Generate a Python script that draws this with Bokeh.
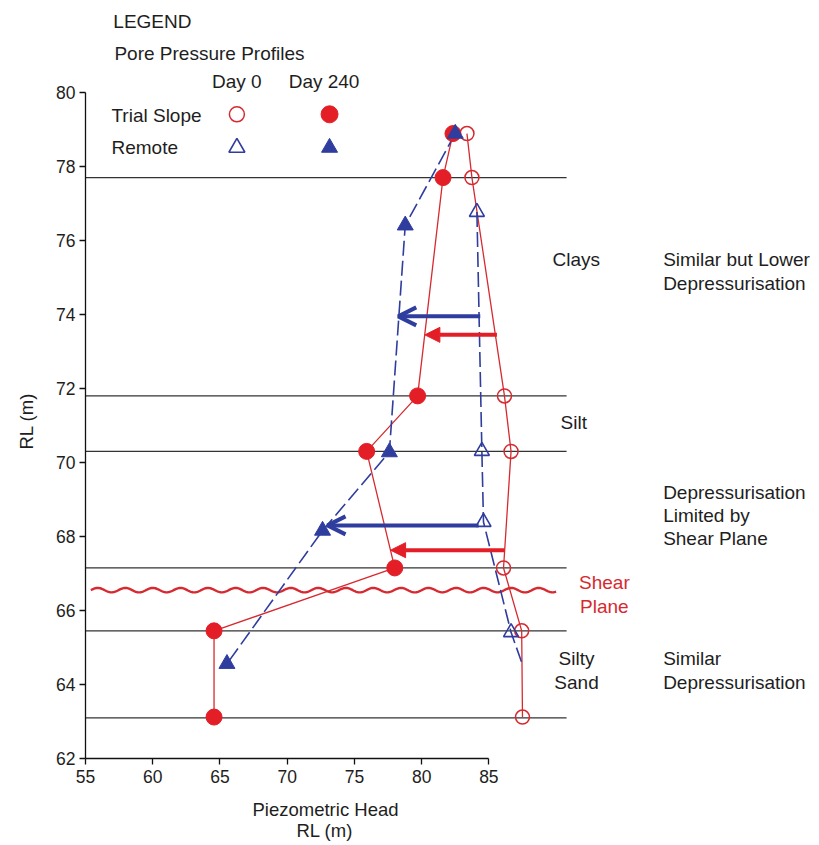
import numpy as np
from bokeh.plotting import figure
from bokeh.models import Arrow, OpenHead, NormalHead, FixedTicker, Title
from bokeh.core.properties import value
from bokeh.embed import file_html
from bokeh.resources import INLINE

# ---------------- data ----------------
layer_boundaries = [77.7, 71.8, 70.3, 67.15, 65.45, 63.1]
shear_plane_rl = 66.55

trial_rl = [78.89, 77.70, 71.80, 70.30, 67.15, 65.45, 63.12]
trial_day0 = [83.37, 83.74, 86.16, 86.65, 86.09, 87.44, 87.50]
trial_day240 = [82.33, 81.59, 79.70, 75.91, 78.00, 64.56, 64.56]

remote_day0_rl = [76.77, 70.31, 68.39, 65.41, 64.60]
remote_day0 = [84.11, 84.48, 84.60, 86.65, 87.44]
remote_day0_marked = [True, True, True, True, False]

remote_day240_rl = [78.89, 76.41, 70.28, 68.16, 64.56]
remote_day240 = [82.50, 78.78, 77.60, 72.63, 65.52]

blue_arrow_rl = [73.95, 68.30]
blue_arrow_from = [84.36, 84.24]
blue_arrow_to = [78.26, 73.00]
red_arrow_rl = [73.45, 67.63]
red_arrow_from = [85.60, 86.16]
red_arrow_to = [80.24, 77.69]

x_ticks = [55, 60, 65, 70, 75, 80, 85]
y_ticks = [62, 64, 66, 68, 70, 72, 74, 76, 78, 80]

RED = "#E41E26"
RED_LINE = "#D62A30"
BLUE = "#2F3D9E"
INK = "#1E1E1E"
FONT = "Liberation Sans"

X_MAX = 109.59      # right edge of the drawing area
LINE_END = 90.78    # where the layer boundary lines stop

# ---------------- figure ----------------
p = figure(width=819, height=845, output_backend="svg", toolbar_location=None,
           x_range=(55, X_MAX), y_range=(62, 82.27),
           min_border_left=82, min_border_right=0,
           min_border_top=8, min_border_bottom=87)
p.outline_line_color = None
p.grid.visible = False

for ax in (p.xaxis[0], p.yaxis[0]):
    ax.axis_line_color = "#111111"
    ax.axis_line_width = 1.3
    ax.major_tick_line_color = "#111111"
    ax.major_tick_line_width = 1.3
    ax.major_tick_out = 6
    ax.major_tick_in = 0
    ax.minor_tick_line_color = None
    ax.major_label_text_font = FONT
    ax.major_label_text_font_size = "17.5px"
    ax.major_label_text_color = INK

p.xaxis.bounds = (55, 85)
p.yaxis.bounds = (62, 80)
p.xaxis.ticker = FixedTicker(ticks=x_ticks)
p.yaxis.ticker = FixedTicker(ticks=y_ticks)
p.xaxis.major_label_standoff = 5
p.yaxis.major_label_standoff = 4

# axis titles
p.add_layout(Title(text="Piezometric Head", align="left", offset=167, vertical_align="bottom",
                   standoff=22, text_font=FONT, text_font_size="18.5px",
                   text_font_style="normal", text_color=INK), "below")
p.add_layout(Title(text="RL (m)", align="left", offset=211, vertical_align="top",
                   standoff=-22, text_font=FONT, text_font_size="18.5px",
                   text_font_style="normal", text_color=INK), "below")
p.add_layout(Title(text="RL (m)", align="left", offset=309, vertical_align="top",
                   standoff=30, text_font=FONT, text_font_size="18.5px",
                   text_font_style="normal", text_color=INK), "left")

# layer boundaries
p.segment(x0=[55] * len(layer_boundaries), x1=[LINE_END] * len(layer_boundaries),
          y0=layer_boundaries, y1=layer_boundaries, line_color="#333333", line_width=1.3)

# shear plane wavy line (decorative symbol)
wx = np.linspace(55.4, 90.0, 600)
wy = shear_plane_rl + 0.06 * np.sin(2 * np.pi * (wx - 55.4) / 2.05)
p.line(wx, wy, line_color=RED_LINE, line_width=2.4)

# profiles
p.line(trial_day0, trial_rl, line_color=RED_LINE, line_width=1.3)
p.line(trial_day240, trial_rl, line_color=RED_LINE, line_width=1.3)
p.line(remote_day0, remote_day0_rl, line_color=BLUE, line_width=1.6, line_dash="15 5")
p.line(remote_day240, remote_day240_rl, line_color=BLUE, line_width=1.6, line_dash="15 5")

# arrows
for rl, x0, x1 in zip(blue_arrow_rl, blue_arrow_from, blue_arrow_to):
    p.add_layout(Arrow(x_start=x0, y_start=rl, x_end=x1, y_end=rl,
                       line_color=BLUE, line_width=4,
                       end=OpenHead(size=18, line_color=BLUE, line_width=4)))
for rl, x0, x1 in zip(red_arrow_rl, red_arrow_from, red_arrow_to):
    p.add_layout(Arrow(x_start=x0, y_start=rl, x_end=x1, y_end=rl,
                       line_color=RED, line_width=4,
                       end=NormalHead(size=15, fill_color=RED, line_color=RED, line_width=1)))

# markers
p.scatter(trial_day0, trial_rl, marker="circle", size=14, fill_color=None,
          line_color=RED_LINE, line_width=1.5)
p.scatter(trial_day240, trial_rl, marker="circle", size=16, fill_color=RED,
          line_color=RED, line_width=1)
mx = [x for x, m in zip(remote_day0, remote_day0_marked) if m]
my = [y for y, m in zip(remote_day0_rl, remote_day0_marked) if m]
p.scatter(mx, my, marker="triangle", size=15, fill_color=None,
          line_color=BLUE, line_width=1.6)
p.scatter(remote_day240, remote_day240_rl, marker="triangle", size=16,
          fill_color=BLUE, line_color=BLUE, line_width=1)

# legend (hand laid-out table)
p.scatter([66.26], [79.41], marker="circle", size=15, fill_color=None, line_color=RED_LINE, line_width=1.5)
p.scatter([73.15], [79.41], marker="circle", size=17, fill_color=RED, line_color=RED)
p.scatter([66.26], [78.51], marker="triangle", size=16, fill_color=None, line_color=BLUE, line_width=1.6)
p.scatter([73.15], [78.51], marker="triangle", size=16, fill_color=BLUE, line_color=BLUE)

def texts(items, align="left", color=INK, size="19px"):
    p.text(x=[i[1] for i in items], y=[i[2] for i in items], text=[i[0] for i in items],
           text_align=align, text_baseline="middle", text_font=value(FONT),
           text_font_size=size, text_color=color)

texts([("LEGEND", 57.07, 81.92),
       ("Pore Pressure Profiles", 57.15, 81.05),
       ("Day 0", 64.41, 80.30),
       ("Day 240", 70.11, 80.30),
       ("Trial Slope", 56.93, 79.38),
       ("Remote", 56.93, 78.51)])

texts([("Clays", 89.74, 75.49),
       ("Silt", 90.33, 71.08),
       ("Similar but Lower", 97.96, 75.49),
       ("Depressurisation", 97.96, 74.84),
       ("Depressurisation", 97.96, 69.19),
       ("Limited by", 97.96, 68.57),
       ("Shear Plane", 97.96, 67.95),
       ("Similar", 97.96, 64.70),
       ("Depressurisation", 97.96, 64.05)])
texts([("Silty", 91.52, 64.70), ("Sand", 91.52, 64.05)], align="center")
texts([("Shear", 93.59, 66.76), ("Plane", 93.59, 66.11)], align="center", color=RED_LINE)

open("out.html", "w").write(file_html(p, INLINE))
